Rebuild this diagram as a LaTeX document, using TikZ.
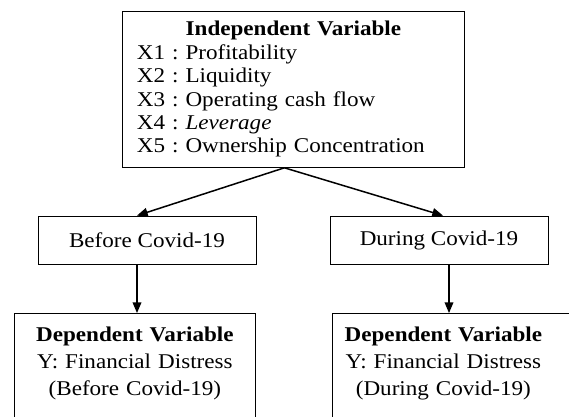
\documentclass[tikz,border=0pt]{standalone}
\usepackage{fontspec}
\setmainfont[FakeStretch=1.1]{Liberation Serif}
\frenchspacing
\usetikzlibrary{arrows, shapes}
\tikzstyle{varbox} = [rectangle, draw=black, line width=0.8pt, inner xsep=14.5pt, text width=313pt, minimum height=156pt, align=left, anchor=north west]
\tikzstyle{period} = [rectangle, draw=black, line width=0.8pt, minimum width=218pt, minimum height=48pt, text centered]
\tikzstyle{outcome} = [rectangle, draw=black, line width=0.8pt, inner xsep=0pt, inner ysep=14pt, text depth=70pt, anchor=north west, font=\fontsize{21}{27}\selectfont]
\tikzstyle{arrow} = [line width=1.5pt,->,>=triangle 45]

\begin{document}
\begin{tikzpicture}[x=1pt, y=1pt, yscale=-1, font=\fontsize{21}{23.4}\selectfont]
\useasboundingbox (0, 0) rectangle (569, 416);

\node at (122, 11) (indep) [varbox] {\makebox[\linewidth]{\textbf{Independent Variable}}\\
  X1 : Profitability\\
  X2 : Liquidity\\
  X3 : Operating cash flow\\
  X4 : \textit{Leverage}\\
  X5 : Ownership Concentration};

\node at (147, 240) (before) [period] {Before Covid-19};
\node at (439, 240) (during) [period] {During Covid-19};

\node at (14, 313) (depBefore) [outcome, text width=241pt, align=center] {\textbf{Dependent Variable}\\ Y: Financial Distress\\ (Before Covid-19)};
\node at (332, 313) (depDuring) [outcome, text width=260pt, align=left] {\makebox[222pt]{\textbf{Dependent Variable}}\\ \makebox[222pt]{Y: Financial Distress}\\ \makebox[222pt]{(During Covid-19)}};

\draw [arrow] ([xshift=-9pt]indep.south) -- ([xshift=-10pt]before.north);
\draw [arrow] ([xshift=-9pt]indep.south) -- ([xshift=4pt]during.north);
\draw [arrow] ([xshift=-10pt]before.south) -- ([xshift=-10pt]before.south |- depBefore.north);
\draw [arrow] ([xshift=10pt]during.south) -- ([xshift=10pt]during.south |- depDuring.north);

\end{tikzpicture}
\end{document}
